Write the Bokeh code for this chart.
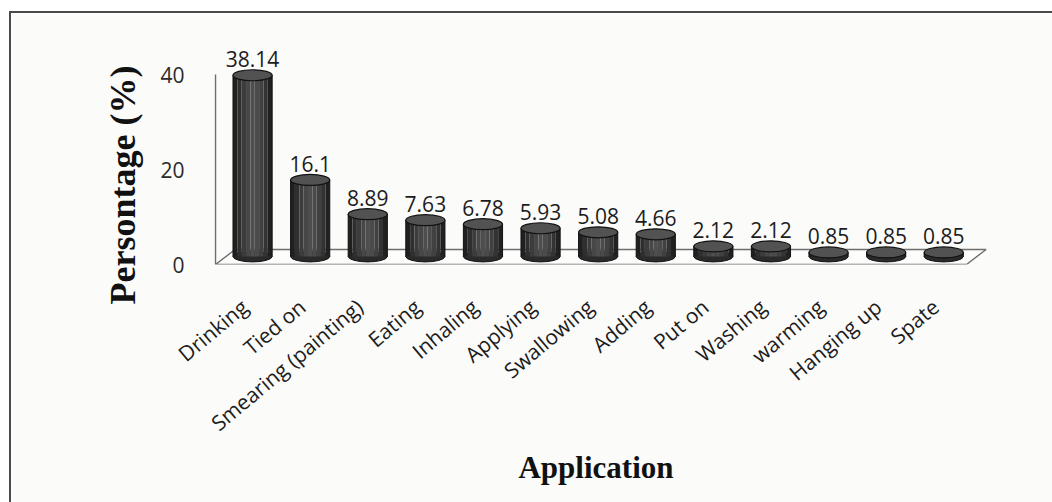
from math import radians

from bokeh.core.properties import value
from bokeh.embed import file_html
from bokeh.models import ColumnDataSource, FixedTicker, Range1d, Title
from bokeh.plotting import figure
from bokeh.resources import INLINE

# ---- data -------------------------------------------------------------
applications = ["Drinking", "Tied on", "Smearing (painting)", "Eating", "Inhaling",
                "Applying", "Swallowing", "Adding", "Put on", "Washing",
                "warming", "Hanging up", "Spate"]
percentages = [38.14, 16.1, 8.89, 7.63, 6.78, 5.93, 5.08, 4.66,
               2.12, 2.12, 0.85, 0.85, 0.85]
y_ticks = [0, 20, 40]

# ---- pseudo-3D geometry (data units) -----------------------------------
BAR_SHIFT = 0.14        # cylinders stand a little behind/right of their tick
BAR_WIDTH = 0.68
BASE = 1.7              # cylinders stand mid-depth on the floor
DEPTH_X, DEPTH_Y = 0.34, 3.16
LABEL_GAP = 3.4
SHADES = ["#202020", "#2f2f2f", "#3c3c3c", "#474747", "#4e4e4e",
          "#4b4b4b", "#414141", "#333333", "#212121"]
BG = "#fbfbfa"

positions = list(range(len(applications)))
centers = [i + BAR_SHIFT for i in positions]
tops = [BASE + v for v in percentages]

# the panel is cut by the page edge on the right and at the bottom
p = figure(width=1050, height=496,
           x_range=Range1d(-0.712, 12.917), y_range=Range1d(0, 46.95),
           output_backend="svg", toolbar_location=None,
           min_border_left=192, min_border_right=73,
           min_border_top=28, min_border_bottom=245,
           background_fill_color=BG, border_fill_color=BG,
           outline_line_color=None)
p.margin = (11, 0, 0, 9)
p.styles = {"border-style": "solid none none solid",
            "border-width": "2px 0px 0px 2px",
            "border-color": "#4a4a4a"}
p.xgrid.visible = False
p.ygrid.visible = False

# floor of the 3D box and the wall edge
x_left = -0.503
x_right = len(applications) - 1 + 0.535
floor_xs = [x_left, x_right, x_right + DEPTH_X, x_left + DEPTH_X]
floor_ys = [0, 0, DEPTH_Y, DEPTH_Y]
p.patch(floor_xs, floor_ys, fill_color="#fdfdfc", line_color="#6e6e6e", line_width=1.4)
p.segment(x0=[x_left], y0=[0], x1=[x_left], y1=[y_ticks[-1]], line_color="#6e6e6e", line_width=1.4)

# cylinder bodies: vertical shading strips
n = len(SHADES)
strip_w = BAR_WIDTH / n
qs = dict(left=[], right=[], bottom=[], top=[], color=[])
for c, t in zip(centers, tops):
    for k, shade in enumerate(SHADES):
        l = c - BAR_WIDTH / 2 + k * strip_w
        qs["left"].append(l)
        qs["right"].append(l + strip_w)
        qs["bottom"].append(BASE)
        qs["top"].append(t)
        qs["color"].append(shade)

src = ColumnDataSource(dict(x=centers, base=[BASE] * len(centers), top=tops,
                            label=[str(v) for v in percentages],
                            label_y=[t + LABEL_GAP for t in tops]))

p.ellipse(x="x", y="base", width=BAR_WIDTH, height=11, height_units="screen",
          source=src, fill_color="#2a2a2a", line_color="#111111", line_width=1)
p.quad(left="left", right="right", bottom="bottom", top="top", color="color",
       source=ColumnDataSource(qs), line_color=None)
p.segment(x0=[c - BAR_WIDTH / 2 for c in centers], y0=[BASE] * len(centers),
          x1=[c - BAR_WIDTH / 2 for c in centers], y1=tops, line_color="#111111", line_width=1)
p.segment(x0=[c + BAR_WIDTH / 2 for c in centers], y0=[BASE] * len(centers),
          x1=[c + BAR_WIDTH / 2 for c in centers], y1=tops, line_color="#111111", line_width=1)
p.ellipse(x="x", y="top", width=BAR_WIDTH, height=11, height_units="screen",
          source=src, fill_color="#525252", line_color="#121212", line_width=1.2)

# value labels
p.text(x="x", y="label_y", text="label", source=src,
       text_font=value("Open Sans"), text_font_size="21px", text_color="#1c1c1c",
       text_align="center", text_baseline="alphabetic")

# axes
p.xaxis.ticker = FixedTicker(ticks=positions)
p.xaxis.major_label_overrides = {i: name for i, name in zip(positions, applications)}
p.xaxis.major_label_orientation = radians(40)
p.xaxis.major_label_text_font = "Open Sans"
p.xaxis.major_label_text_font_size = "21px"
p.xaxis.major_label_text_color = "#1c1c1c"
p.xaxis.major_label_standoff = 33
p.xaxis.axis_line_color = None
p.xaxis.major_tick_line_color = None
p.xaxis.minor_tick_line_color = None
p.xaxis.axis_label = "Application"
p.xaxis.axis_label_text_font = "Liberation Serif"
p.xaxis.axis_label_text_font_style = "bold"
p.xaxis.axis_label_text_font_size = "31px"
p.xaxis.axis_label_text_color = "#111111"
p.xaxis.axis_label_standoff = 0

p.yaxis.ticker = FixedTicker(ticks=y_ticks)
p.yaxis.major_label_text_font = "Open Sans"
p.yaxis.major_label_text_font_size = "21px"
p.yaxis.major_label_text_color = "#2a2a2a"
p.yaxis.major_label_standoff = 13
p.yaxis.axis_line_color = None
p.yaxis.major_tick_line_color = None
p.yaxis.minor_tick_line_color = None

p.add_layout(Title(text="Persontage (%)", align="left", offset=-40,
                   text_font="Liberation Serif", text_font_style="bold",
                   text_font_size="36px", text_color="#111111", standoff=30), "left")

open("out.html", "w").write(file_html(p, INLINE))
